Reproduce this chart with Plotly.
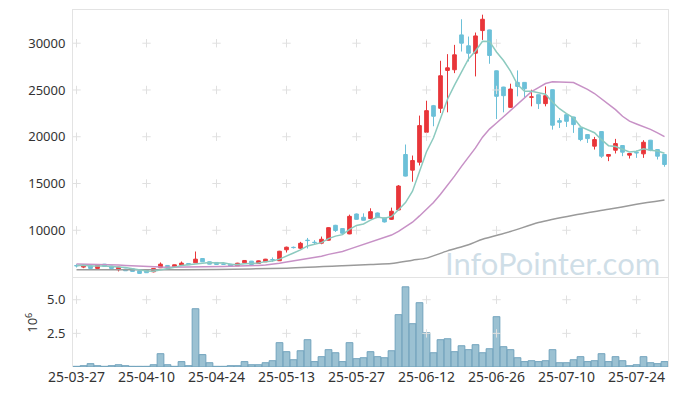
import pandas as pd
import plotly.graph_objects as go

# ---------------- data ----------------
dates = [
    "25-03-27", "25-03-28", "25-03-31",
    "25-04-01", "25-04-02", "25-04-03", "25-04-04", "25-04-07", "25-04-08", "25-04-09",
    "25-04-10", "25-04-11", "25-04-14", "25-04-15", "25-04-16", "25-04-17", "25-04-18",
    "25-04-21", "25-04-22", "25-04-23", "25-04-24", "25-04-25", "25-04-28", "25-04-29",
    "25-04-30",
    "25-05-02", "25-05-07", "25-05-08", "25-05-09", "25-05-12", "25-05-13", "25-05-14",
    "25-05-15", "25-05-16", "25-05-19", "25-05-20", "25-05-21", "25-05-22", "25-05-23",
    "25-05-26", "25-05-27", "25-05-28", "25-05-29", "25-05-30",
    "25-06-02", "25-06-04", "25-06-05", "25-06-09", "25-06-10", "25-06-11", "25-06-12",
    "25-06-13", "25-06-16", "25-06-17", "25-06-18", "25-06-19", "25-06-20", "25-06-23",
    "25-06-24", "25-06-25", "25-06-26", "25-06-27", "25-06-30",
    "25-07-01", "25-07-02", "25-07-03", "25-07-04", "25-07-07", "25-07-08", "25-07-09",
    "25-07-10", "25-07-11", "25-07-14", "25-07-15", "25-07-16", "25-07-17", "25-07-18",
    "25-07-21", "25-07-22", "25-07-23", "25-07-24", "25-07-25", "25-07-28", "25-07-29",
    "25-07-30",
]

opens = [
    6230, 6060, 6200, 5920, 6380, 6170, 5780, 5850, 5880, 5670,
    5740, 5560, 5990, 6240, 6100, 6270, 6450, 6520, 6980, 6630,
    6560, 6390, 6380, 6200, 6520, 6700, 6450, 6630, 6870, 6740,
    7910, 8180, 8080, 8940, 8720, 8620, 8940, 10530, 10180, 9610,
    11740, 11390, 11250, 11850, 11320, 11170, 12170, 18100, 16430, 17280,
    20480, 23320, 23040, 27090, 27160, 30890, 29720, 28930, 31350, 31420,
    27050, 25310, 23140, 25810, 25810, 24220, 24490, 23540, 25030, 21720,
    22360, 22110, 20940, 20230, 18990, 20550, 17920, 18560, 19060, 18030,
    18350, 18170, 19630, 18630, 18100,
]
highs = [
    6380, 6380, 6230, 6330, 6400, 6200, 6090, 5880, 5900, 5690,
    5760, 5950, 6560, 6260, 6330, 6660, 6470, 7730, 7000, 6650,
    6580, 6430, 6400, 6520, 6800, 6720, 6760, 6940, 7090, 7800,
    8250, 8260, 8760, 9180, 8940, 9330, 10330, 10580, 10230, 11670,
    11790, 11810, 12350, 11900, 11360, 12420, 14830, 19170, 17990, 22260,
    23850, 23400, 28120, 28830, 29820, 32560, 30710, 31140, 33050, 31450,
    27080, 25340, 25670, 27090, 25840, 25030, 24520, 25380, 25060, 22010,
    22390, 22140, 20970, 20260, 19980, 20580, 18130, 19770, 19090, 18240,
    18530, 19630, 19660, 18660, 18130,
]
lows = [
    6020, 5950, 5900, 5900, 6110, 5890, 5600, 5650, 5580, 5370,
    5440, 5500, 5960, 6080, 6080, 6250, 6290, 6500, 6610, 6360,
    6320, 6330, 6110, 6180, 6500, 6320, 6430, 6610, 6630, 6720,
    7620, 8050, 7980, 8050, 8470, 8510, 8900, 9820, 9620, 9580,
    11140, 11040, 11220, 11320, 10830, 11100, 12100, 15750, 15190, 16930,
    20300, 21120, 22540, 22610, 26800, 29110, 28050, 26450, 30350, 27800,
    21900, 22610, 23100, 24320, 24250, 23250, 22970, 23250, 20760, 20940,
    21050, 20410, 19520, 19340, 18630, 17740, 17390, 18210, 17920, 17670,
    17740, 17740, 18450, 17570, 16790,
]
closes = [
    6200, 6290, 5920, 6310, 6130, 5920, 6060, 5670, 5600, 5390,
    5460, 5920, 6380, 6100, 6310, 6490, 6310, 6910, 6630, 6380,
    6340, 6370, 6130, 6480, 6770, 6340, 6730, 6910, 6840, 7760,
    8190, 8150, 8610, 8900, 8690, 9040, 10280, 9970, 9680, 11490,
    11170, 11070, 11990, 11350, 10890, 12030, 14730, 15790, 17460, 21190,
    22790, 22190, 26520, 27370, 28760, 30000, 28930, 30780, 32560, 28690,
    24320, 24390, 25100, 25380, 25130, 24260, 23540, 24390, 21230, 21550,
    21650, 21300, 19700, 19800, 19700, 17920, 18100, 19270, 18350, 18210,
    18280, 19410, 18560, 17920, 17030,
]
volumes = [
    50000, 100000, 250000, 100000, 50000, 100000, 170000, 100000, 50000, 50000,
    50000, 170000, 990000, 170000, 50000, 400000, 100000, 4330000, 920000, 320000,
    50000, 50000, 100000, 100000, 400000, 170000, 170000, 320000, 470000, 1810000,
    1140000, 540000, 1210000, 2030000, 400000, 770000, 1290000, 1060000, 400000, 1810000,
    620000, 690000, 1140000, 770000, 690000, 1210000, 3890000, 5960000, 3220000, 4780000,
    2550000, 1060000, 2030000, 2100000, 1140000, 1580000, 1290000, 1660000, 1060000, 1360000,
    3740000, 1510000, 1290000, 690000, 400000, 470000, 400000, 470000, 1290000, 320000,
    320000, 540000, 770000, 400000, 470000, 990000, 400000, 770000, 470000, 100000,
    170000, 770000, 320000, 250000, 400000,
]
# closes of the sessions just before the window (estimated from where the MA lines start)
closes_before_window = [
    6450, 6500, 6400, 6550, 6500, 6450, 6400, 6500, 6550, 6450,
    6400, 6350, 6400, 6300, 6350, 6250, 6300, 6200, 6250,
]
# long moving average (grey line) read at these sessions
long_ma_dates = ["25-03-27", "25-04-10", "25-04-24", "25-05-13", "25-05-23", "25-05-29",
                 "25-06-04", "25-06-10", "25-06-12", "25-06-17", "25-06-20", "25-06-24",
                 "25-06-30", "25-07-04", "25-07-11", "25-07-18", "25-07-24", "25-07-30"]
long_ma_values = [5770, 5770, 5810, 5950, 6200, 6350, 6450, 6800, 7020, 7800, 8450, 9040,
                  9860, 10820, 11600, 12240, 12770, 13230]

price_ticks = [10000, 15000, 20000, 25000, 30000]
volume_ticks = [2.5, 5.0]          # in millions (axis title 10^6)
date_ticks = dates[::10]

# ---------------- derived series ----------------
all_closes = pd.Series(closes_before_window + closes)
ma5 = all_closes.rolling(5).mean().iloc[len(closes_before_window):].tolist()
ma20 = all_closes.rolling(20).mean().iloc[len(closes_before_window):].tolist()
vol_m = [v / 1e6 for v in volumes]

UP = "#e8363a"
DOWN = "#6cc0d8"
FONT = "Noto Sans"
TXT = "#333333"
FRAME = "#e3e3e3"
CROSS = "#e0e0e0"

fig = go.Figure()

# grid crosses at tick intersections (drawn first, behind the marks)
cx, cy = [], []
for d in date_ticks:
    for p in price_ticks:
        cx.append(d)
        cy.append(p)
fig.add_trace(go.Scatter(x=cx, y=cy, mode="markers", xaxis="x", yaxis="y",
                         marker=dict(symbol="cross-thin", size=6,
                                     line=dict(width=1, color=CROSS)),
                         hoverinfo="skip", showlegend=False))
vx, vy = [], []
for d in date_ticks:
    for v in volume_ticks:
        vx.append(d)
        vy.append(v)
fig.add_trace(go.Scatter(x=vx, y=vy, mode="markers", xaxis="x2", yaxis="y2",
                         marker=dict(symbol="cross-thin", size=6,
                                     line=dict(width=1, color=CROSS)),
                         hoverinfo="skip", showlegend=False))

fig.add_trace(go.Bar(x=dates, y=vol_m, xaxis="x2", yaxis="y2",
                     marker=dict(color="rgba(150,190,208,0.95)",
                                 line=dict(color="rgba(110,160,186,0.95)", width=1)),
                     showlegend=False, name="volume"))

fig.add_trace(go.Scatter(x=long_ma_dates, y=long_ma_values, mode="lines", xaxis="x", yaxis="y",
                         line=dict(color="#9a9a9a", width=1.5, shape="spline", smoothing=0.8),
                         showlegend=False, name="MA long"))
fig.add_trace(go.Scatter(x=dates, y=ma20, mode="lines", xaxis="x", yaxis="y",
                         line=dict(color="#c791c6", width=1.5), showlegend=False, name="MA20"))

fig.add_trace(go.Candlestick(
    x=dates, open=opens, high=highs, low=lows, close=closes,
    xaxis="x", yaxis="y",
    increasing=dict(line=dict(color=UP, width=1), fillcolor=UP),
    decreasing=dict(line=dict(color=DOWN, width=1), fillcolor=DOWN),
    whiskerwidth=0, showlegend=False, name="price"))

fig.add_trace(go.Scatter(x=dates, y=ma5, mode="lines", xaxis="x", yaxis="y",
                         line=dict(color="#8ccabf", width=1.5), showlegend=False, name="MA5"))

# the page body adds an 8px offset, so the figure is 8px smaller than the window
fig.update_layout(
    width=669, height=388,
    margin=dict(l=65, r=9, t=2, b=29),
    paper_bgcolor="white", plot_bgcolor="white",
    font=dict(family=FONT, size=13, color=TXT),
    bargap=0.04, boxgap=0.25,
    xaxis=dict(type="category", categoryorder="array", categoryarray=dates,
               domain=[0, 1], anchor="y", range=[-0.5, len(dates) - 0.5],
               showticklabels=False, showgrid=False, zeroline=False, automargin=False,
               showline=True, mirror=True, linecolor=FRAME, linewidth=1,
               tickvals=date_ticks, ticks="", rangeslider=dict(visible=False)),
    xaxis2=dict(type="category", categoryorder="array", categoryarray=dates,
                domain=[0, 1], anchor="y2", matches="x", automargin=False,
                range=[-0.5, len(dates) - 0.5],
                tickvals=date_ticks, ticktext=date_ticks, ticks="", tickangle=0,
                tickfont=dict(size=14, color=TXT, family=FONT),
                showgrid=False, zeroline=False, showline=False),
    yaxis=dict(domain=[0.252, 1], anchor="x", range=[5000, 33550], automargin=False,
               tickvals=price_ticks, ticktext=[str(t) for t in price_ticks],
               tickfont=dict(size=13, color=TXT, family=FONT),
               ticks="outside", ticklen=4, tickcolor="rgba(0,0,0,0)",
               showgrid=False, zeroline=False,
               showline=True, mirror=True, linecolor=FRAME, linewidth=1),
    yaxis2=dict(domain=[0, 0.248], anchor="x2", range=[0, 6.58], automargin=False,
                tickvals=volume_ticks, ticktext=["2.5", "5.0"],
                tickfont=dict(size=13, color=TXT, family=FONT),
                ticks="outside", ticklen=4, tickcolor="rgba(0,0,0,0)",
                title=dict(text="10<sup>6</sup>", font=dict(size=13, color=TXT, family=FONT),
                           standoff=6),
                showgrid=False, zeroline=False,
                showline=True, mirror=True, linecolor=FRAME, linewidth=1),
    annotations=[dict(text="InfoPointer.com", xref="paper", yref="paper",
                      x=0.99, y=0.29, xanchor="right", yanchor="middle",
                      showarrow=False,
                      font=dict(family="Lato", size=31, color="rgba(160,190,208,0.5)"))],
)

fig.write_html("out.html")
